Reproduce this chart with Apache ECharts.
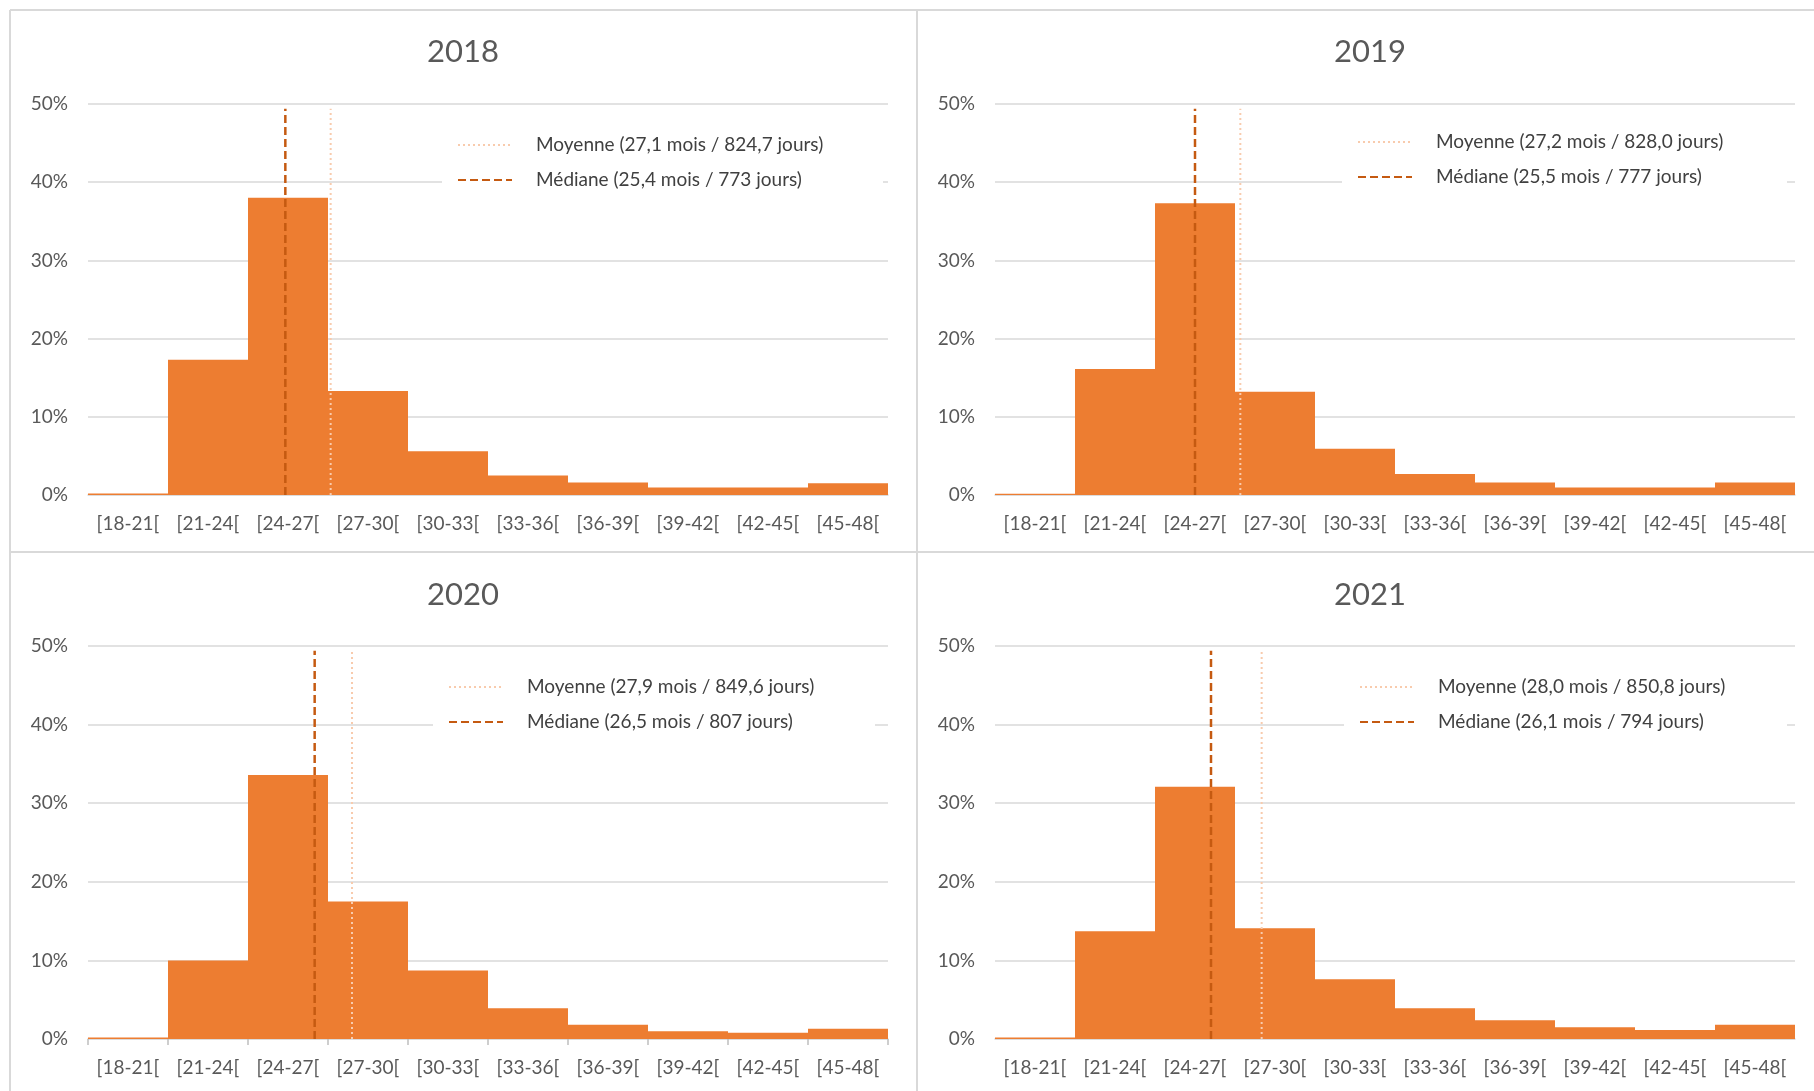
<!DOCTYPE html>
<html>
<head>
<meta charset="utf-8">
<script src="https://cdn.jsdelivr.net/npm/echarts@6/dist/echarts.min.js"></script>
<style>
html,body{margin:0;padding:0;background:#ffffff;}
#chart{width:1814px;height:1091px;}
</style>
</head>
<body>
<div id="chart"></div>
<script>
// ---------------- DATA ----------------
const categories = ['[18-21[', '[21-24[', '[24-27[', '[27-30[', '[30-33[', '[33-36[', '[36-39[', '[39-42[', '[42-45[', '[45-48['];
const years = ['2018', '2019', '2020', '2021'];
const values2018 = [0.18, 17.3, 38.0, 13.3, 5.6, 2.5, 1.6, 0.95, 0.95, 1.5];
const values2019 = [0.15, 16.1, 37.3, 13.2, 5.9, 2.7, 1.6, 0.95, 0.95, 1.6];
const values2020 = [0.18, 10.0, 33.6, 17.5, 8.7, 3.9, 1.8, 1.0, 0.8, 1.3];
const values2021 = [0.18, 13.7, 32.1, 14.1, 7.6, 3.9, 2.4, 1.5, 1.15, 1.8];
const meanMonths = [27.1, 27.2, 27.9, 28.0];
const medianMonths = [25.4, 25.5, 26.5, 26.1];
const meanLabels = [
  'Moyenne (27,1 mois / 824,7 jours)',
  'Moyenne (27,2 mois / 828,0 jours)',
  'Moyenne (27,9 mois / 849,6 jours)',
  'Moyenne (28,0 mois / 850,8 jours)'
];
const medianLabels = [
  'Médiane (25,4 mois / 773 jours)',
  'Médiane (25,5 mois / 777 jours)',
  'Médiane (26,5 mois / 807 jours)',
  'Médiane (26,1 mois / 794 jours)'
];
const monthRange = [18, 48];
const yMin = 0, yMax = 50, yStep = 10;
const refLineTop = 49.4;
const allValues = [values2018, values2019, values2020, values2021];

// ---------------- LAYOUT / STYLE ----------------
const FONT = 'Lato, "Liberation Sans", Arial, sans-serif';
const ORANGE = '#ED7D31';
const MEAN_COLOR = '#F8CBAD';
const MEDIAN_COLOR = '#C55A11';
const GRID_COLOR = '#D9D9D9';
const TEXT_GRAY = '#595959';

const panels = [
  {left: 88,  top: 104, height: 391, titleX: 463,  titleTop: 36,  legLeft: 442,  legTop: 120, legW: 440, ticks: false},
  {left: 995, top: 104, height: 391, titleX: 1370, titleTop: 36,  legLeft: 1342, legTop: 117, legW: 444, ticks: false},
  {left: 88,  top: 646, height: 393, titleX: 463,  titleTop: 579, legLeft: 433,  legTop: 662, legW: 441, ticks: true},
  {left: 995, top: 646, height: 393, titleX: 1370, titleTop: 579, legLeft: 1344, legTop: 662, legW: 442, ticks: false}
];
const PLOT_W = 800;

const option = {
  animation: false,
  backgroundColor: '#ffffff',
  textStyle: {fontFamily: FONT},
  title: [], legend: [], grid: [], xAxis: [], yAxis: [], series: [],
  graphic: [
    {type: 'line', z: 100, shape: {x1: 10, y1: 10, x2: 1814, y2: 10}, style: {stroke: GRID_COLOR, lineWidth: 2}},
    {type: 'line', z: 100, shape: {x1: 10, y1: 552, x2: 1814, y2: 552}, style: {stroke: GRID_COLOR, lineWidth: 2}},
    {type: 'line', z: 100, shape: {x1: 10, y1: 10, x2: 10, y2: 1091}, style: {stroke: GRID_COLOR, lineWidth: 2}},
    {type: 'line', z: 100, shape: {x1: 917, y1: 10, x2: 917, y2: 1091}, style: {stroke: GRID_COLOR, lineWidth: 2}}
  ]
};

panels.forEach((p, i) => {
  option.title.push({
    text: years[i], left: p.titleX, top: p.titleTop, textAlign: 'center', padding: 0,
    textStyle: {fontFamily: FONT, fontSize: 31, fontWeight: 'normal', color: TEXT_GRAY}
  });
  option.grid.push({left: p.left, top: p.top, width: PLOT_W, height: p.height, containLabel: false});
  // category axis for bars
  option.xAxis.push({
    type: 'category', gridIndex: i, data: categories, boundaryGap: true,
    axisLine: {show: true, lineStyle: {color: GRID_COLOR, width: 1.5}},
    axisTick: {show: p.ticks, length: 6, lineStyle: {color: '#BFBFBF', width: 1.5}},
    axisLabel: {interval: 0, margin: 19, color: TEXT_GRAY, fontSize: 19, fontFamily: FONT},
    splitLine: {show: false}
  });
  // hidden value axis (months) for mean / median lines
  option.xAxis.push({
    type: 'value', gridIndex: i, min: monthRange[0], max: monthRange[1], show: false,
    splitLine: {show: false}
  });
  option.yAxis.push({
    type: 'value', gridIndex: i, min: yMin, max: yMax, interval: yStep,
    axisLine: {show: false}, axisTick: {show: false},
    axisLabel: {formatter: '{value}%', margin: 20, color: TEXT_GRAY, fontSize: 19, fontFamily: FONT},
    splitLine: {show: true, lineStyle: {color: GRID_COLOR, width: 1.5}}
  });
  option.series.push({
    type: 'bar', name: 'Distribution ' + years[i], xAxisIndex: 2 * i, yAxisIndex: i,
    data: allValues[i], barCategoryGap: '0%', barGap: '0%',
    itemStyle: {color: ORANGE}, z: 2, silent: true
  });
  option.series.push({
    type: 'line', name: meanLabels[i], xAxisIndex: 2 * i + 1, yAxisIndex: i,
    data: [[meanMonths[i], 0], [meanMonths[i], refLineTop]],
    symbol: 'none', silent: true, z: 3,
    lineStyle: {color: MEAN_COLOR, width: 2, type: [2, 3]}, itemStyle: {color: MEAN_COLOR}
  });
  option.series.push({
    type: 'line', name: medianLabels[i], xAxisIndex: 2 * i + 1, yAxisIndex: i,
    data: [[medianMonths[i], 0], [medianMonths[i], refLineTop]],
    symbol: 'none', silent: true, z: 4,
    lineStyle: {color: MEDIAN_COLOR, width: 2.5, type: [8, 4]}, itemStyle: {color: MEDIAN_COLOR}
  });
  const padL = 15, padR = 10, iconW = 54, textPadL = 19;
  option.legend.push({
    data: [meanLabels[i], medianLabels[i]],
    orient: 'vertical', left: p.legLeft, top: p.legTop,
    itemWidth: iconW, itemHeight: 14, itemGap: 15,
    padding: [15, padR, 15, padL], backgroundColor: '#ffffff',
    selectedMode: false,
    itemStyle: {color: 'rgba(0,0,0,0)', borderWidth: 0, opacity: 0},
    textStyle: {fontFamily: FONT, fontSize: 19, color: '#404040', lineHeight: 20,
      padding: [0, 0, 0, textPadL], width: p.legW - padL - padR - iconW - 5 - textPadL}
  });
});

const chart = echarts.init(document.getElementById('chart'), null, {renderer: 'canvas'});
chart.setOption(option);
</script>
</body>
</html>
